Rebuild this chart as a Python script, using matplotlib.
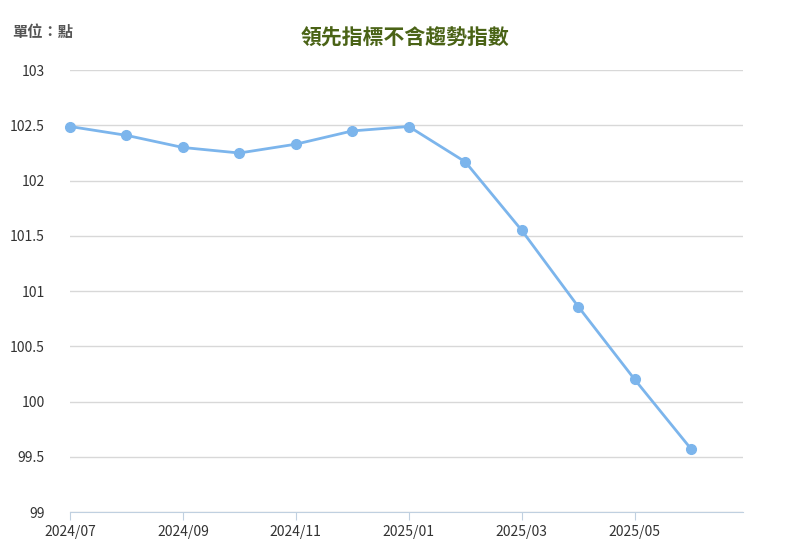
import matplotlib
matplotlib.use("Agg")
import matplotlib.pyplot as plt

plt.rcParams['font.family'] = ['Noto Sans CJK TC', 'DejaVu Sans']

months = ["2024/07","2024/08","2024/09","2024/10","2024/11","2024/12",
          "2025/01","2025/02","2025/03","2025/04","2025/05","2025/06"]
values = [102.49, 102.41, 102.30, 102.25, 102.33, 102.45,
          102.49, 102.17, 101.55, 100.86, 100.20, 99.57]
yticks = [99, 99.5, 100, 100.5, 101, 101.5, 102, 102.5, 103]
ytick_labels = ["99", "99.5", "100", "100.5", "101", "101.5", "102", "102.5", "103"]

fig = plt.figure(figsize=(8.1, 5.6), dpi=100)
ax = fig.add_axes([0.0864, 0.0857, 0.831, 0.789])
x = list(range(len(months)))
ax.plot(x, values, color="#7cb5ec", lw=2, marker="o", ms=7, zorder=3, clip_on=False)
ax.set_xlim(0, 11.92)
ax.set_ylim(99, 103)
ax.set_yticks(yticks)
ax.set_yticklabels(ytick_labels)
ax.set_xticks(x[::2])
ax.set_xticklabels(months[::2])
ax.grid(axis="y", color="#d8d8d8", lw=1)
for s in ["top", "right", "left"]:
    ax.spines[s].set_visible(False)
ax.spines["bottom"].set_color("#c0d0e0")
ax.tick_params(axis="y", length=0, labelsize=10, colors="#333333", pad=18)
ax.tick_params(axis="x", length=6, color="#c0d0e0", labelsize=10, colors="#333333")
fig.text(0.5, 0.932, "領先指標不含趨勢指數", ha="center", va="center",
         fontsize=15, fontweight="bold", color="#4a6316")
fig.text(0.015, 0.942, "單位：點", ha="left", va="center", fontsize=11,
         color="#555555", fontweight="bold")
fig.savefig("out.png", dpi=100)
